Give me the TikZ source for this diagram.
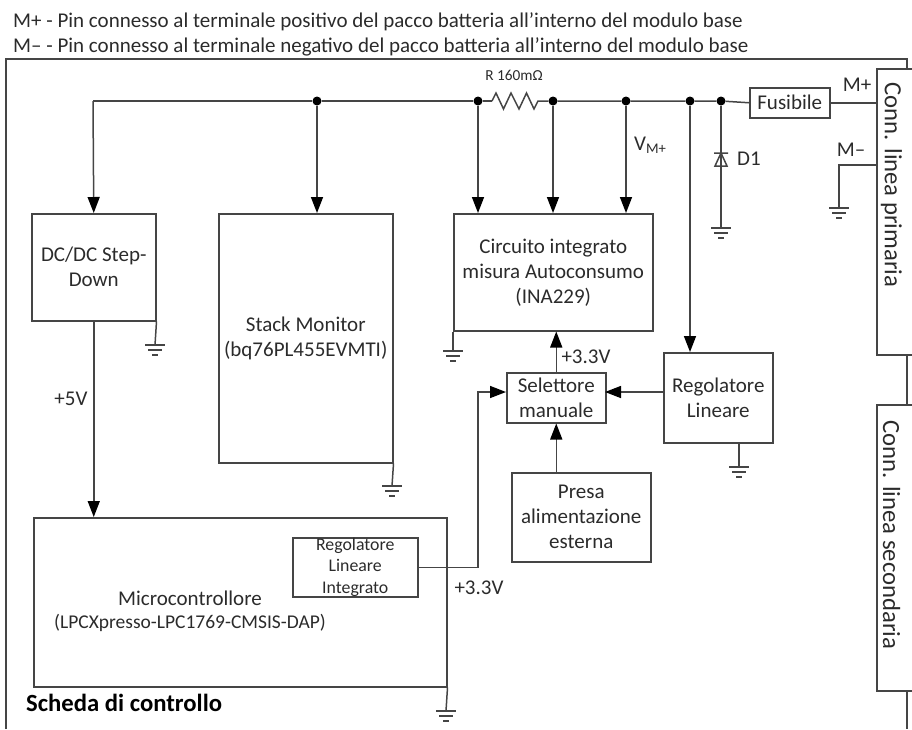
\documentclass[tikz,border=0pt]{standalone}
\usepackage{fontspec}
\setmainfont{Carlito}
\usetikzlibrary{arrows.meta}
\definecolor{filo}{gray}{0.27}
\definecolor{testo}{gray}{0.17}
\tikzset{
  blocco/.style={draw=filo, line width=1.5pt, anchor=north west, align=center, inner sep=0pt, text=testo,
    font=\fontsize{21}{25}\selectfont},
  scritta/.style={text=testo, inner sep=0pt, align=center, font=\fontsize{21}{25}\selectfont},
  filo/.style={draw=filo, line width=1.5pt},
  freccia/.style={filo, -{Triangle[length=16pt,width=12pt,color=black]}},
  punto/.style={circle, fill=black, inner sep=0pt, minimum size=9pt},
  massa/.pic={
    \draw[filo] (-10,0) -- (10,0) (-7,5) -- (7,5) (-3,10) -- (3,10);
  }
}
\begin{document}
\begin{tikzpicture}[x=1pt,y=-1pt]
  \useasboundingbox (0,0) rectangle (912,729);
  \node[scritta, anchor=west] (rigaP) at (13,22) {M+ - Pin connesso al terminale positivo del pacco batteria all’interno del modulo base};
  \node[scritta, anchor=west] (rigaM) at (13,47) {M– - Pin connesso al terminale negativo del pacco batteria all’interno del modulo base};

  \node[blocco, minimum width=54pt, minimum height=286pt] (connP) at (876,68) {};
  \node[blocco, minimum width=54pt, minimum height=286pt] (connS) at (876,404) {};
  \node[scritta, rotate=-90, font=\fontsize{24.7}{28}\selectfont] (nomeP) at (891.5,185) {Conn. linea primaria};
  \node[scritta, rotate=-90, font=\fontsize{24.7}{28}\selectfont] (nomeS) at (891.5,535) {Conn. linea secondaria};
  \coordinate (bordoA) at (6,729);
  \coordinate (bordoB) at (907,59);
  \coordinate (bordoC) at (907,729);
  \draw[filo] (bordoA) |- (bordoB) -- (bordoB |- connP.north);
  \draw[filo] (bordoB |- connP.south) -- (bordoB |- connS.north);
  \draw[filo] (bordoB |- connS.south) -- (bordoC);

  \node[blocco, minimum width=124pt, minimum height=107pt] (dcdc) at (31,213) {DC/DC Step-\\Down};
  \node[blocco, minimum width=174pt, minimum height=249pt] (stack) at (218,213) {Stack Monitor\\(bq76PL455EVMTI)};
  \node[blocco, minimum width=199pt, minimum height=117pt] (ina) at (453,213) {Circuito integrato\\misura Autoconsumo\\(INA229)};
  \node[blocco, minimum width=99pt, minimum height=50pt] (sel) at (506,372) {Selettore\\manuale};
  \node[blocco, minimum width=109pt, minimum height=90pt] (reg) at (663,352) {Regolatore\\Lineare};
  \node[blocco, minimum width=139pt, minimum height=89pt] (presa) at (511,472) {Presa\\alimentazione\\esterna};
  \node[blocco, minimum width=413pt, minimum height=169pt] (micro) at (33,517) {};
  \node[blocco, minimum width=125pt, minimum height=59pt, font=\fontsize{17.8}{21.5}\selectfont] (regint) at (292,537) {Regolatore\\Lineare\\Integrato};
  \node[blocco, minimum width=80pt, minimum height=30pt] (fus) at (749,87) {Fusibile};

  \node[punto] (nStack) at (317,101) {};
  \node[punto] (nRa) at (478,101) {};
  \node[punto] (nRb) at (553,101) {};
  \node[punto] (nV) at (626,101) {};
  \node[punto] (nReg) at (690,101) {};
  \node[punto] (nD) at (721,101) {};
  \coordinate (busL) at (93,101);
  \coordinate (resA) at (492,101);
  \coordinate (resB) at (538,101);
  \coordinate (diodo) at (721,153);
  \coordinate (selSx) at (506,392);
  \coordinate (selDx) at (605,392);

  \draw[filo] (busL) -- (nStack) -- (nRa) -- (resA);
  \draw[filo] (resA) -- ++(4,-8) -- ++(7.5,16) -- ++(7.5,-16) -- ++(8,16) -- ++(7.5,-16) -- ++(7.5,16) -- (resB) -- (nRb) -- (nV) -- (nReg) -- (nD) -- (fus.west);
  \draw[freccia] (busL) -- (dcdc.north);
  \draw[freccia] (nStack) -- (nStack |- stack.north);
  \draw[freccia] (nRa) -- (nRa |- ina.north);
  \draw[freccia] (nRb) -- (nRb |- ina.north);
  \draw[freccia] (nV) -- (nV |- ina.north);
  \draw[freccia] (nReg) -- (nReg |- reg.north);
  \draw[freccia] (dcdc.south) -- (dcdc.south |- micro.north);
  \draw[freccia] (sel.north) -- (sel.north |- ina.south);
  \draw[freccia] (reg.west |- selDx) -- (selDx);
  \draw[freccia] (presa.north -| sel.south) -- (sel.south);
  \draw[freccia] (regint.east) -| (478,392) -- (selSx);
  \draw[filo] (fus.east) -- (fus.east -| connP.west);

  \coordinate (gD) at (721,228);
  \coordinate (gMeno) at (839,208);
  \coordinate (gDcdc) at (155,345);
  \coordinate (gStack) at (392,486);
  \coordinate (gIna) at (453,351);
  \coordinate (gReg) at (739,467);
  \coordinate (gMicro) at (446,711);
  \draw[filo] (nD) -- (gD);
  \draw[filo] (diodo) ++(-7,0) -- ++(14,0) -- ++(-7,0) -- ++(-6,13) -- ++(12,0) -- ++(-6,-13);
  \draw[filo] (connP.west |- 0,165) -- (gMeno |- 0,165) -- (gMeno);
  \draw[filo] (dcdc.south east) -- (gDcdc);
  \draw[filo] (stack.south east) -- (gStack);
  \draw[filo] (ina.south west) -- (gIna);
  \draw[filo] (reg.south -| gReg) -- (gReg);
  \draw[filo] (micro.south east) -- (gMicro);
  \foreach \g in {gD,gMeno,gDcdc,gStack,gIna,gReg,gMicro}
    \pic at (\g) {massa};

  \node[scritta, font=\fontsize{15.3}{18}\selectfont] (lblR) at (514,75) {R 160mΩ};
  \node[scritta, anchor=west] (lblV) at (634,145) {V\textsubscript{M+}};
  \node[scritta, anchor=west] (lblD) at (737,159) {D1};
  \node[scritta] (lblP) at (857,85) {M+};
  \node[scritta] (lblM) at (851,150) {M–};
  \node[scritta] (lbl5) at (71,399) {+5V};
  \node[scritta] (lbl33a) at (586,357) {+3.3V};
  \node[scritta] (lbl33b) at (479,588) {+3.3V};
  \node[scritta] (lblMicro) at (190,598) {Microcontrollore};
  \node[scritta, font=\fontsize{19.5}{25}\selectfont] (lblLpc) at (190,623) {(LPCXpresso-LPC1769-CMSIS-DAP)};
  \node[scritta, anchor=west, text=black, font=\fontsize{24.7}{28}\bfseries] (lblScheda) at (26,703) {Scheda di controllo};
\end{tikzpicture}
\end{document}
